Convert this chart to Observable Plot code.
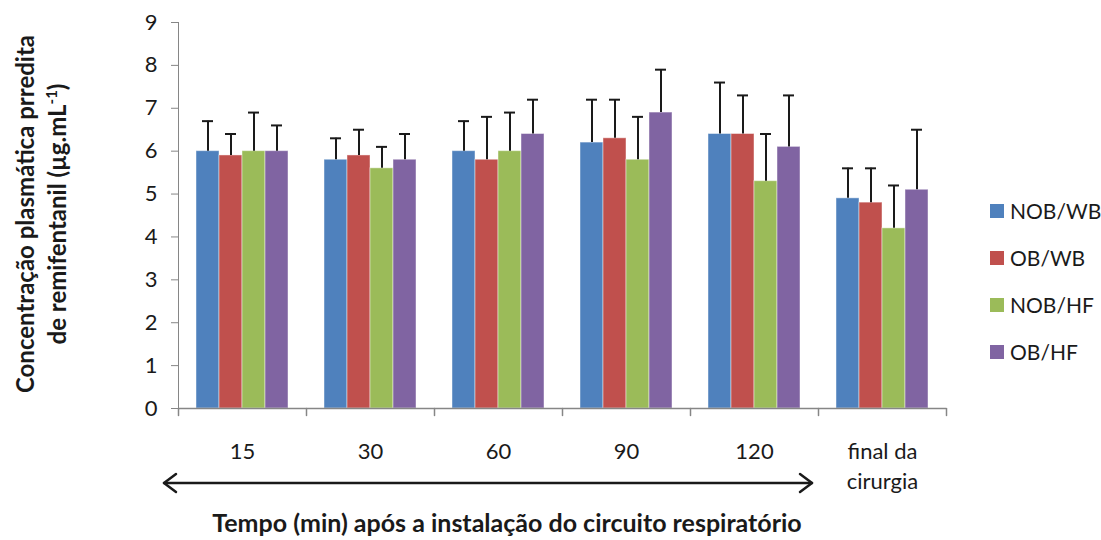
<!DOCTYPE html>
<html>
<head>
<meta charset="utf-8">
<script src="https://cdn.jsdelivr.net/npm/d3@7"></script>
<script src="https://cdn.jsdelivr.net/npm/@observablehq/plot@0.6"></script>
<style>
  body { margin: 0; background: #fff; }
  #wrap { position: relative; width: 1101px; height: 540px; font-family: Lato, "DejaVu Sans", sans-serif; color: #1a1a1a; overflow: hidden; }
  #chart { position: absolute; left: 0; top: 0; }
  #chart svg text { fill: #1a1a1a; }
  .legend { position: absolute; left: 990px; top: 0; }
  .legend .item { position: absolute; left: 0; height: 22px; white-space: nowrap; font-size: 21px; line-height: 22px; }
  .legend .sw { position: absolute; left: 0; top: 4px; width: 14px; height: 14px; }
  .legend .lab { position: absolute; left: 20px; top: 0; }
  .ytitle { position: absolute; left: 41px; top: 214px; width: 520px; transform: translate(-50%, -50%) rotate(-90deg); text-align: center; font-weight: bold; font-size: 24px; line-height: 32px; white-space: nowrap; }
  .ytitle sup { font-size: 15px; line-height: 0; }
  .xtitle { position: absolute; left: 507px; top: 522px; transform: translate(-50%, -50%); font-weight: bold; font-size: 25px; white-space: nowrap; }
  .arrow { position: absolute; left: 0; top: 0; }
</style>
</head>
<body>
<div id="wrap">
  <div id="chart"></div>
  <svg class="arrow" width="1101" height="540">
    <g stroke="#1a1a1a" stroke-width="2.5" fill="none" stroke-linecap="round" stroke-linejoin="round">
      <line x1="164" y1="483" x2="812" y2="483"/>
      <polyline points="176,474 164,483 176,492"/>
      <polyline points="800,474 812,483 800,492"/>
    </g>
  </svg>
  <div class="ytitle">Concentração plasmática prredita<br>de remifentanil (µg.mL<sup>-1</sup>)</div>
  <div class="xtitle">Tempo (min) após a instalação do circuito respiratório</div>
  <div class="legend" id="legend"></div>
</div>
<script>
const categories = ["15", "30", "60", "90", "120", "final da\ncirurgia"];
const seriesNames = ["NOB/WB", "OB/WB", "NOB/HF", "OB/HF"];
const seriesColors = ["#4F81BD", "#C0504D", "#9BBB59", "#8064A2"];

const meanNOBWB = [6.0, 5.8, 6.0, 6.2, 6.4, 4.9];
const meanOBWB  = [5.9, 5.9, 5.8, 6.3, 6.4, 4.8];
const meanNOBHF = [6.0, 5.6, 6.0, 5.8, 5.3, 4.2];
const meanOBHF  = [6.0, 5.8, 6.4, 6.9, 6.1, 5.1];

const sdNOBWB = [0.7, 0.5, 0.7, 1.0, 1.2, 0.7];
const sdOBWB  = [0.5, 0.6, 1.0, 0.9, 0.9, 0.8];
const sdNOBHF = [0.9, 0.5, 0.9, 1.0, 1.1, 1.0];
const sdOBHF  = [0.6, 0.6, 0.8, 1.0, 1.2, 1.4];

const yTicks = [0, 1, 2, 3, 4, 5, 6, 7, 8, 9];

const means = [meanNOBWB, meanOBWB, meanNOBHF, meanOBHF];
const sds = [sdNOBWB, sdOBWB, sdNOBHF, sdOBHF];
const rows = [];
seriesNames.forEach((s, si) => {
  categories.forEach((c, ci) => {
    rows.push({cat: c, series: s, mean: means[si][ci], top: means[si][ci] + sds[si][ci]});
  });
});

const tickShape = {draw(context, l) { context.moveTo(0, 0); context.lineTo(0, -l); }};

const chart = Plot.plot({
  width: 1101,
  height: 540,
  marginLeft: 177,
  marginRight: 154,
  marginTop: 22,
  marginBottom: 132,
  style: {fontFamily: "Lato, 'DejaVu Sans', sans-serif", fontSize: "22px", color: "#868686", background: "transparent"},
  fx: {domain: categories, padding: 0, axis: null, label: null},
  x: {domain: seriesNames, paddingInner: 0, paddingOuter: 0.78, axis: null},
  y: {domain: [0, 9], ticks: yTicks, tickSize: 7, tickPadding: 14, line: true, label: null, tickFormat: d => String(d)},
  color: {domain: seriesNames, range: seriesColors},
  marks: [
    Plot.barY(rows, {fx: "cat", x: "series", y: "mean", fill: "series", stroke: "white", strokeOpacity: 0.45, strokeWidth: 1}),
    Plot.ruleX(rows, {fx: "cat", x: "series", y1: "mean", y2: "top", stroke: "#1a1a1a", strokeWidth: 2}),
    Plot.tickY(rows, {fx: "cat", x: "series", y: "top", stroke: "#1a1a1a", strokeWidth: 2, insetLeft: 6, insetRight: 6}),
    Plot.ruleY([0], {stroke: "currentColor", strokeWidth: 1.5}),
    Plot.vector([0], {y: d => d, frameAnchor: "left", length: 7, rotate: 180, anchor: "start", shape: tickShape, stroke: "currentColor", strokeWidth: 1.5}),
    Plot.vector([categories[categories.length - 1]], {fx: d => d, y: () => 0, frameAnchor: "right", length: 7, rotate: 180, anchor: "start", shape: tickShape, stroke: "currentColor", strokeWidth: 1.5}),
    Plot.text(categories, {fx: d => d, text: d => d, frameAnchor: "bottom", lineAnchor: "top", dy: 29, lineHeight: 1.36, fontSize: 22})
  ]
});
document.getElementById("chart").appendChild(chart);

// legend
const legend = document.getElementById("legend");
const legendTops = [200, 247, 294, 341];
seriesNames.forEach((s, i) => {
  const item = document.createElement("div");
  item.className = "item";
  item.style.top = legendTops[i] + "px";
  item.innerHTML = `<span class="sw" style="background:${seriesColors[i]}"></span><span class="lab">${s}</span>`;
  legend.appendChild(item);
});
</script>
</body>
</html>
